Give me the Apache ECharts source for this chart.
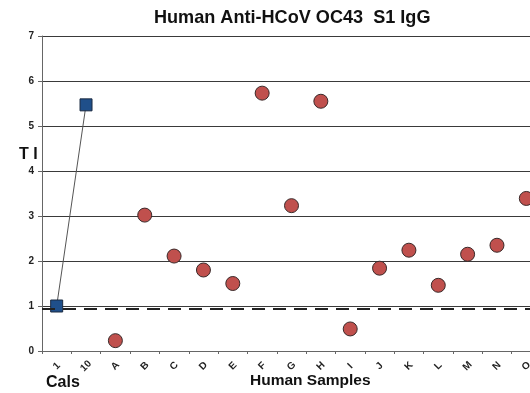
<!DOCTYPE html>
<html>
<head>
<meta charset="utf-8">
<script src="https://cdn.jsdelivr.net/npm/echarts@6/dist/echarts.min.js"></script>
<style>
  html, body { margin: 0; padding: 0; background: #fff; }
  #chart { width: 530px; height: 393px; }
</style>
</head>
<body>
<div id="chart"></div>
<script>
// categories along the x axis
const categories = ['1', '10', 'A', 'B', 'C', 'D', 'E', 'F', 'G', 'H', 'I', 'J', 'K', 'L', 'M', 'N', 'O'];
// calibrators (first two categories)
const calValues = [1.0, 5.47, '-', '-', '-', '-', '-', '-', '-', '-', '-', '-', '-', '-', '-', '-', '-'];
// human samples
const sampleValues = ['-', '-', 0.23, 3.02, 2.11, 1.80, 1.50, 5.73, 3.23, 5.55, 0.49, 1.84, 2.24, 1.46, 2.15, 2.35, 3.39];
// cut-off line
const cutoff = 0.95;

const FONT = '"Liberation Sans", Arial, sans-serif';

const chart = echarts.init(document.getElementById('chart'));

const option = {
    backgroundColor: '#fff',
    animation: false,
    title: {
        text: 'Human Anti-HCoV OC43  S1 IgG',
        left: 149,
        top: 4,
        textStyle: { fontFamily: FONT, fontSize: 18.1, fontWeight: 'bold', color: '#111' }
    },
    grid: {
        top: 36,
        left: 42,
        width: 499,
        height: 315,
        outerBoundsMode: 'none',
        containLabel: false
    },
    xAxis: {
        type: 'category',
        data: categories,
        boundaryGap: true,
        axisLine: { lineStyle: { color: '#666', width: 1 } },
        axisTick: { show: true, length: 3, lineStyle: { color: '#666' } },
        axisLabel: {
            rotate: 45,
            margin: 15,
            align: 'center',
            verticalAlign: 'middle',
            fontFamily: FONT,
            fontSize: 10,
            fontWeight: 'bold',
            color: '#222'
        },
        splitLine: { show: false }
    },
    yAxis: {
        type: 'value',
        min: 0,
        max: 7,
        interval: 1,
        axisLine: { show: true, lineStyle: { color: '#666', width: 1 } },
        axisTick: { show: true, length: 4, lineStyle: { color: '#666' } },
        axisLabel: {
            margin: 8,
            fontFamily: FONT,
            fontSize: 10,
            fontWeight: 'bold',
            color: '#222'
        },
        splitLine: { show: true, lineStyle: { color: '#3a3a3a', width: 1 } }
    },
    graphic: [
        {
            type: 'text', left: 19, top: 147,
            style: { text: 'T I', fontFamily: FONT, fontSize: 16, fontWeight: 'bold', fill: '#111' }
        },
        {
            type: 'text', left: 46, top: 375,
            style: { text: 'Cals', fontFamily: FONT, fontSize: 16, fontWeight: 'bold', fill: '#111' }
        },
        {
            type: 'text', left: 250, top: 373,
            style: { text: 'Human Samples', fontFamily: FONT, fontSize: 15.5, fontWeight: 'bold', fill: '#111' }
        }
    ],
    series: [
        {
            name: 'Cals',
            type: 'line',
            data: calValues,
            symbol: 'rect',
            symbolSize: 12,
            lineStyle: { color: '#555', width: 1 },
            itemStyle: { color: '#1f4f8a', borderColor: '#1a2a40', borderWidth: 1 },
            z: 3
        },
        {
            name: 'Samples',
            type: 'scatter',
            data: sampleValues,
            symbol: 'circle',
            symbolSize: 14,
            itemStyle: { color: '#c0504d', borderColor: '#3a2a2a', borderWidth: 1, opacity: 1 },
            markLine: {
                silent: true,
                symbol: ['none', 'none'],
                label: { show: false },
                lineStyle: { color: '#222', width: 2, type: [13, 8] },
                data: [{ yAxis: cutoff }]
            },
            z: 3
        }
    ]
};

chart.setOption(option);
</script>
</body>
</html>
